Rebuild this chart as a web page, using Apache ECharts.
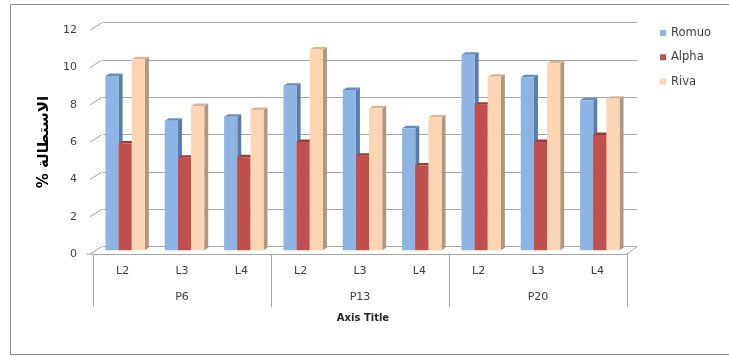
<!DOCTYPE html>
<html>
<head>
<meta charset="utf-8">
<script src="https://cdn.jsdelivr.net/npm/echarts@6/dist/echarts.min.js"></script>
<style>
html,body{margin:0;padding:0;background:#fff;}
#c{width:729px;height:356px;}
</style>
</head>
<body>
<div id="c"></div>
<script>
// ---- data ----
const groups = ['P6', 'P13', 'P20'];
const levels = ['L2', 'L3', 'L4'];
const seriesNames = ['Romuo', 'Alpha', 'Riva'];
const romuo = [9.34, 6.95, 7.16, 8.82, 8.59, 6.54, 10.48, 9.27, 8.04];
const alpha = [5.73, 4.96, 4.98, 5.80, 5.07, 4.55, 7.80, 5.80, 6.18];
const riva  = [10.24, 7.73, 7.52, 10.77, 7.61, 7.13, 9.30, 10.02, 8.13];
const yTicks = [0, 2, 4, 6, 8, 10, 12];
const yTitle = '% الاستطالة';
const xTitle = 'Axis Title';

// ---- styling ----
const FONT = 'DejaVu Sans';
const faces = [
  {front: '#8DB4E2', side: '#5B7CA8', top: '#6A8CC0'},
  {front: '#C0504D', side: '#8E3431', top: '#9E3C39'},
  {front: '#FCD5B4', side: '#B09880', top: '#D9B89A'}
];
const DEPTH_X = 10, DEPTH_Y = -7.5;   // floor depth
const BAR_DX = 2.5, BAR_DY = -3.75;   // bar position inside the depth
const SIDE_X = 4, SIDE_Y = -2.5;      // bar thickness
const GRID_LINE = '#A6A6A6';

const categories = [];
groups.forEach(g => levels.forEach(l => categories.push(l)));
const allValues = [romuo, alpha, riva];

function barSeries(si) {
  return {
    type: 'custom',
    name: seriesNames[si],
    xAxisIndex: 0, yAxisIndex: 0,
    itemStyle: {color: faces[si].front},
    data: allValues[si].map((v, i) => [i, v]),
    encode: {x: 0, y: 1},
    renderItem: function (params, api) {
      const idx = api.value(0), val = api.value(1);
      const base = api.coord([idx, 0]);
      const top = api.coord([idx, val]);
      const band = api.size([1, 0])[0];
      const bw = band * 0.2215;
      const x0 = base[0] - 1.5 * bw + si * bw + BAR_DX;
      const x1 = x0 + bw;
      const yb = base[1] + BAR_DY;
      const yt = top[1] + BAR_DY;
      const f = faces[si];
      return {
        type: 'group',
        children: [
          {type: 'polygon', shape: {points: [[x1, yt], [x1 + SIDE_X, yt + SIDE_Y], [x1 + SIDE_X, yb + SIDE_Y], [x1, yb]]},
            style: {fill: f.side}},
          {type: 'polygon', shape: {points: [[x0, yt], [x0 + SIDE_X, yt + SIDE_Y], [x1 + SIDE_X, yt + SIDE_Y], [x1, yt]]},
            style: {fill: f.top}},
          {type: 'rect', shape: {x: x0, y: yt, width: bw, height: yb - yt},
            style: {fill: f.front}}
        ]
      };
    },
    z: 3
  };
}

const frameSeries = {
  type: 'custom',
  name: 'frame',
  xAxisIndex: 0, yAxisIndex: 0,
  silent: true,
  legendHoverLink: false,
  data: yTicks.map(v => [0, v]),
  encode: {x: 0, y: 1},
  renderItem: function (params, api) {
    const v = api.value(1);
    const p = api.coord([0, v]);
    const cs = params.coordSys;
    const xl = cs.x - 3;
    const children = [
      {type: 'line', shape: {x1: xl, y1: p[1], x2: xl + DEPTH_X + 2, y2: p[1] + DEPTH_Y},
        style: {stroke: GRID_LINE, lineWidth: 1}}
    ];
    if (v === 0) {
      const xr = cs.x + cs.width;
      children.push({type: 'line', shape: {x1: xr, y1: p[1], x2: xr + DEPTH_X, y2: p[1] + DEPTH_Y},
        style: {stroke: GRID_LINE, lineWidth: 1}});
      children.push({type: 'line', shape: {x1: cs.x - 7, y1: p[1], x2: cs.x, y2: p[1]},
        style: {stroke: GRID_LINE, lineWidth: 1}});
    }
    return {type: 'group', children: children};
  },
  z: 1
};

const chart = echarts.init(document.getElementById('c'), null, {renderer: 'canvas'});
const GL = 93, GR = 102, GT = 30.2, GB = 102;
chart.setOption({
  animation: false,
  backgroundColor: '#fff',
  color: faces.map(f => f.front),
  textStyle: {fontFamily: FONT},
  graphic: [
    {type: 'rect', shape: {x: 10.5, y: 4.5, width: 730, height: 350}, style: {fill: 'none', stroke: '#8C8C8C', lineWidth: 1}, z: -10}
  ],
  title: {
    text: xTitle,
    left: 358, top: 308,
    textAlign: 'center',
    textStyle: {fontFamily: FONT, fontSize: 10, fontWeight: 'bold', color: '#262626'}
  },
  legend: {
    orient: 'vertical',
    left: 655, top: 21,
    icon: 'rect',
    itemWidth: 6, itemHeight: 6,
    itemGap: 10.3,
    data: seriesNames,
    textStyle: {fontFamily: FONT, fontSize: 11.5, color: '#404040', lineHeight: 14}
  },
  grid: [
    {left: GL, right: GR, top: GT, bottom: GB},
    {left: GL + DEPTH_X, right: GR - DEPTH_X, top: GT + DEPTH_Y, bottom: GB - DEPTH_Y},
    {left: GL, right: GR, top: GT, bottom: GB}
  ],
  xAxis: [
    {type: 'category', gridIndex: 0, data: categories,
      axisLine: {lineStyle: {color: GRID_LINE}},
      axisTick: {show: false},
      axisLabel: {margin: 12, fontSize: 11, color: '#404040', fontFamily: FONT}},
    {type: 'category', gridIndex: 1, data: categories, show: false},
    {type: 'category', gridIndex: 2, data: groups, position: 'bottom',
      axisLine: {show: false},
      axisTick: {show: true, length: 53, interval: 0, lineStyle: {color: GRID_LINE}},
      axisLabel: {margin: 38, fontSize: 11, color: '#404040', fontFamily: FONT}}
  ],
  yAxis: [
    {type: 'value', gridIndex: 0, min: 0, max: 12, interval: 2,
      axisLine: {show: false}, axisTick: {show: false}, splitLine: {show: false},
      axisLabel: {margin: 16, fontSize: 11, color: '#404040', fontFamily: FONT, padding: [5, 0, 0, 0]},
      name: yTitle, nameLocation: 'middle', nameRotate: 90, nameGap: 38,
      nameTextStyle: {fontFamily: FONT, fontSize: 15, fontWeight: 'bold', color: '#000'}},
    {type: 'value', gridIndex: 1, min: 0, max: 12, interval: 2,
      axisLine: {show: false}, axisTick: {show: false}, axisLabel: {show: false},
      splitLine: {show: true, lineStyle: {color: GRID_LINE, width: 1}}},
    {type: 'value', gridIndex: 2, min: 0, max: 12, show: false, splitLine: {show: false}}
  ],
  series: [frameSeries, barSeries(0), barSeries(1), barSeries(2)]
});
</script>
</body>
</html>
